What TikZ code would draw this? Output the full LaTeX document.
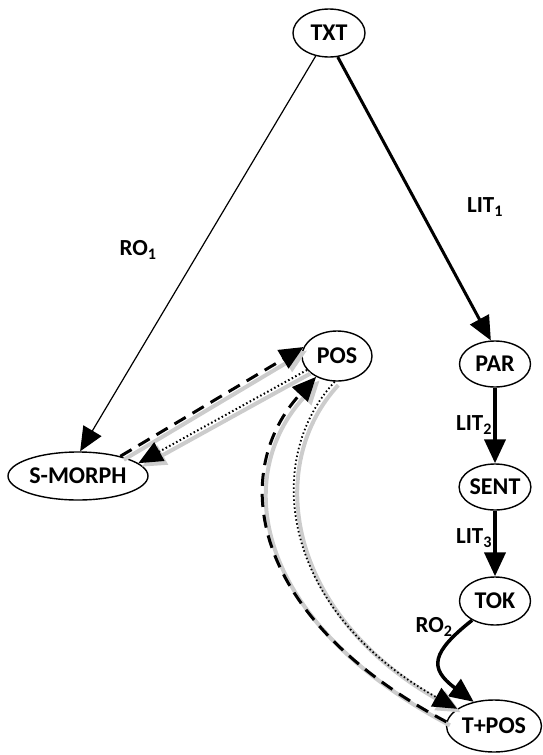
\documentclass[tikz,border=0pt]{standalone}
\usepackage{fontspec}
\setmainfont{Carlito}
\usetikzlibrary{shapes.geometric,arrows.meta}

\begin{document}
\begin{tikzpicture}[x=1pt,y=-1pt,
  unit/.style={ellipse,draw,line width=1.4pt,inner sep=0pt,minimum width=71pt,minimum height=48pt,font=\fontsize{24}{28}\selectfont\bfseries},
  lbl/.style={font=\fontsize{23}{27}\selectfont\bfseries},
  tip/.style={-{Triangle[length=24pt,width=21pt]}},
  shade/.style={preaction={draw=black!20,line width=4pt,transform canvas={shift={(3.5pt,-3.5pt)}}}}]
\useasboundingbox (0,0) rectangle (542,755);
\node[unit,minimum width=72pt,minimum height=48pt] (txt) at (329,33) {TXT};
\node[unit,minimum height=46pt] (par) at (495,364) {PAR};
\node[unit,minimum height=46pt] (sent) at (495,487) {SENT};
\node[unit] (tok) at (495,601) {TOK};
\node[unit,minimum width=95pt,minimum height=52pt] (tpos) at (494,726) {T+POS};
\node[unit,minimum width=70pt,minimum height=50pt] (pos) at (337,356) {POS};
\node[unit,minimum width=140pt,minimum height=48pt] (smorph) at (78,476) {S-MORPH};
\node[lbl] (ro1) at (138,250) {RO\textsubscript{1}};
\node[lbl] (lit1) at (485,207) {LIT\textsubscript{1}};
\node[lbl] (lit2) at (474,425) {LIT\textsubscript{2}};
\node[lbl] (lit3) at (474,538) {LIT\textsubscript{3}};
\node[lbl] (ro2) at (434,627) {RO\textsubscript{2}};
\draw[tip,line width=1.2pt] (txt.240) -- (smorph.85);
\draw[tip,line width=3pt] (txt.290) -- (par.100);
\draw[tip,line width=4pt] (par.south) -- (sent.north);
\draw[tip,line width=4pt] (sent.south) -- (tok.north);
\draw[tip,line width=3.5pt] (tok.220) .. controls (432,652) and (428,668) .. (tpos.130);
\draw[tip,shade,line width=3pt,dash pattern=on 13pt off 8pt] (smorph.25) -- (pos.165);
\draw[tip,shade,line width=2pt,dash pattern=on 1.5pt off 2.5pt] (pos.205) -- (smorph.12);
\draw[tip,shade,line width=3pt,dash pattern=on 13pt off 8pt] (tpos.175) .. controls (245,615) and (230,470) .. (pos.225);
\draw[tip,shade,line width=1.8pt,dash pattern=on 1.5pt off 2.5pt] (pos.265) .. controls (262,460) and (280,610) .. (tpos.155);
\end{tikzpicture}
\end{document}
